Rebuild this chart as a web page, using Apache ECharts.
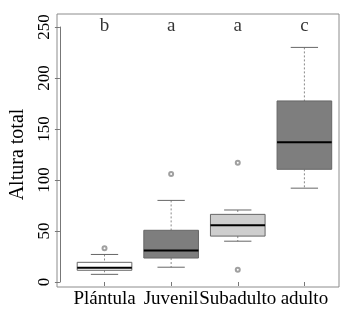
<!DOCTYPE html>
<html>
<head>
<meta charset="utf-8">
<script src="https://cdn.jsdelivr.net/npm/echarts@6/dist/echarts.min.js"></script>
<style>
  html, body { margin: 0; padding: 0; background: #fff; }
  #chart { width: 357px; height: 312px; }
</style>
</head>
<body>
<div id="chart"></div>
<script>
var categories = ['Plántula', 'Juvenil', 'Subadulto', 'adulto'];
// [low whisker, Q1, median, Q3, high whisker]
var boxStats = [
    [7.5, 11.5, 14, 19.3, 27],
    [14.5, 23.5, 31, 50.7, 80],
    [40, 45, 55.6, 66.3, 70.6],
    [92, 110.5, 137, 177.5, 230]
];
var outliers = [[0, 33], [1, 106], [2, 117], [2, 12]];
var letters = ['b', 'a', 'a', 'c'];
var boxFills = ['#ffffff', '#7e7e7e', '#cecece', '#7e7e7e'];
var yTicks = [0, 250, 50];

var font = 'Liberation Serif';

/* ---------- box + whiskers ---------- */
function renderBox(params, api) {
    var x = api.value(0);
    var lo = api.coord([x, api.value(1)]);
    var q1 = api.coord([x, api.value(2)]);
    var md = api.coord([x, api.value(3)]);
    var q3 = api.coord([x, api.value(4)]);
    var hi = api.coord([x, api.value(5)]);
    var half = api.size([1, 0])[0] * 0.41;
    var cap = half * 0.5;
    var cx = lo[0];
    var dash = {stroke: '#8a8a8a', lineWidth: 1, lineDash: [2, 2]};
    var edge = {stroke: '#666', lineWidth: 1};
    return {
        type: 'group',
        children: [
            {type: 'line', shape: {x1: cx, y1: hi[1], x2: cx, y2: q3[1]}, style: dash},
            {type: 'line', shape: {x1: cx, y1: q1[1], x2: cx, y2: lo[1]}, style: dash},
            {type: 'line', shape: {x1: cx - cap, y1: hi[1], x2: cx + cap, y2: hi[1]}, style: edge},
            {type: 'line', shape: {x1: cx - cap, y1: lo[1], x2: cx + cap, y2: lo[1]}, style: edge},
            {type: 'rect', shape: {x: cx - half, y: q3[1], width: half * 2, height: q1[1] - q3[1]},
                style: {fill: boxFills[params.dataIndex], stroke: '#666', lineWidth: 1}},
            {type: 'line', shape: {x1: cx - half, y1: md[1], x2: cx + half, y2: md[1]},
                style: {stroke: '#000', lineWidth: 2}}
        ]
    };
}

var chart = echarts.init(document.getElementById('chart'));

var option = {
    animation: false,
    backgroundColor: '#fff',
    textStyle: {fontFamily: font},
    grid: {left: 68.3, right: 19.3, top: 27, bottom: 30},
    graphic: [{
        type: 'rect',
        shape: {x: 57, y: 14, width: 282, height: 273},
        style: {fill: 'none', stroke: '#8c8c8c', lineWidth: 1},
        z: 0
    }],
    xAxis: {
        type: 'category',
        data: categories,
        offset: 5,
        axisLine: {show: false},
        axisTick: {show: true, alignWithLabel: true, length: 4, lineStyle: {color: '#777'}},
        axisLabel: {fontFamily: font, fontSize: 19, color: '#000', margin: 3, interval: 0}
    },
    yAxis: {
        type: 'value',
        min: yTicks[0],
        max: yTicks[1],
        interval: yTicks[2],
        offset: 11.3,
        name: 'Altura total',
        nameLocation: 'middle',
        nameGap: 27,
        nameRotate: 90,
        nameTextStyle: {fontFamily: font, fontSize: 20, color: '#000'},
        splitLine: {show: false},
        axisLine: {show: true, lineStyle: {color: '#777'}},
        axisTick: {show: true, length: 5, lineStyle: {color: '#777'}},
        axisLabel: {fontFamily: font, fontSize: 17, color: '#000', rotate: 90, margin: 7}
    },
    series: [
        {
            type: 'custom',
            renderItem: renderBox,
            encode: {x: 0, y: [1, 2, 3, 4, 5]},
            data: boxStats.map(function (s, i) { return [i].concat(s); }),
            clip: false
        },
        {
            type: 'scatter',
            data: outliers,
            symbol: 'emptyCircle',
            symbolSize: 4,
            itemStyle: {color: '#888', borderWidth: 1}
        },
        {
            type: 'scatter',
            clip: false,
            data: letters.map(function (l, i) { return {value: [i, 251], name: l}; }),
            symbolSize: 1,
            itemStyle: {color: 'rgba(0,0,0,0)'},
            label: {
                show: true,
                position: 'inside',
                formatter: '{b}',
                fontFamily: font,
                fontSize: 19,
                color: '#000'
            }
        }
    ]
};

chart.setOption(option);
</script>
</body>
</html>
